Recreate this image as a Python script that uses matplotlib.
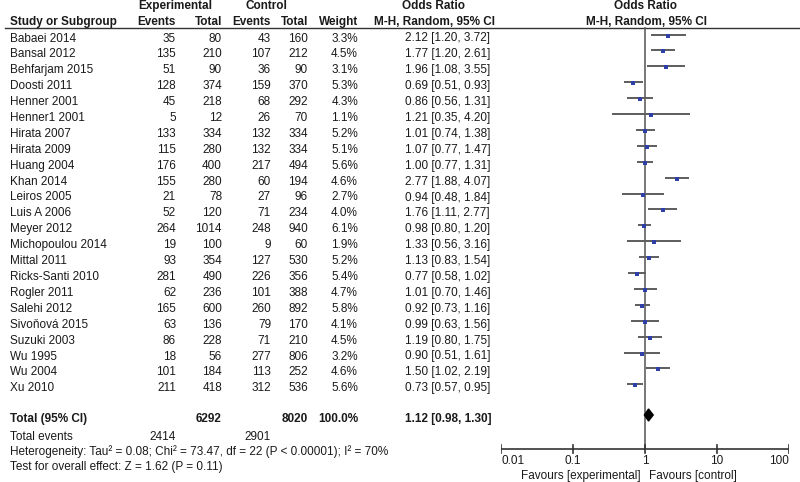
# forest plot recreation
import matplotlib
matplotlib.use("Agg")
import matplotlib.pyplot as plt
from matplotlib.patches import Polygon

plt.rcParams['font.family'] = ['Liberation Sans', 'DejaVu Sans']

# study data
studies = ["Babaei 2014", "Bansal 2012", "Behfarjam 2015", "Doosti 2011", "Henner 2001",
           "Henner1 2001", "Hirata 2007", "Hirata 2009", "Huang 2004", "Khan 2014",
           "Leiros 2005", "Luis A 2006", "Meyer 2012", "Michopoulou 2014", "Mittal 2011",
           "Ricks-Santi 2010", "Rogler 2011", "Salehi 2012", "Sivoňová 2015", "Suzuki 2003",
           "Wu 1995", "Wu 2004", "Xu 2010"]
exp_events = [35, 135, 51, 128, 45, 5, 133, 115, 176, 155, 21, 52, 264, 19, 93, 281, 62, 165, 63, 86, 18, 101, 211]
exp_total = [80, 210, 90, 374, 218, 12, 334, 280, 400, 280, 78, 120, 1014, 100, 354, 490, 236, 600, 136, 228, 56, 184, 418]
ctl_events = [43, 107, 36, 159, 68, 26, 132, 132, 217, 60, 27, 71, 248, 9, 127, 226, 101, 260, 79, 71, 277, 113, 312]
ctl_total = [160, 212, 90, 370, 292, 70, 334, 334, 494, 194, 96, 234, 940, 60, 530, 356, 388, 892, 170, 210, 806, 252, 536]
weights = [3.3, 4.5, 3.1, 5.3, 4.3, 1.1, 5.2, 5.1, 5.6, 4.6, 2.7, 4.0, 6.1, 1.9, 5.2, 5.4, 4.7, 5.8, 4.1, 4.5, 3.2, 4.6, 5.6]
odds = [2.12, 1.77, 1.96, 0.69, 0.86, 1.21, 1.01, 1.07, 1.00, 2.77, 0.94, 1.76, 0.98, 1.33, 1.13, 0.77, 1.01, 0.92, 0.99, 1.19, 0.90, 1.50, 0.73]
ci_low = [1.20, 1.20, 1.08, 0.51, 0.56, 0.35, 0.74, 0.77, 0.77, 1.88, 0.48, 1.11, 0.80, 0.56, 0.83, 0.58, 0.70, 0.73, 0.63, 0.80, 0.51, 1.02, 0.57]
ci_high = [3.72, 2.61, 3.55, 0.93, 1.31, 4.20, 1.38, 1.47, 1.31, 4.07, 1.84, 2.77, 1.20, 3.16, 1.54, 1.02, 1.46, 1.16, 1.56, 1.75, 1.61, 2.19, 0.95]

total_exp, total_ctl = 6292, 8020
events_exp, events_ctl = 2414, 2901
pooled = (1.12, 0.98, 1.30)
ticks = [0.01, 0.1, 1, 10, 100]
tick_labels = ["0.01", "0.1", "1", "10", "100"]

fs = 8.5
tc = '#1a1a1a'

fig = plt.figure(figsize=(8, 4.82), dpi=100)
ax = fig.add_axes([0, 0, 1, 1])
ax.set_xlim(0, 800)
ax.set_ylim(482, 0)
ax.axis('off')

fa = fig.add_axes([501 / 800, 0, 288 / 800, 1])
fa.set_xscale('log')
fa.set_xlim(0.01, 100)
fa.set_ylim(482, 0)
fa.axis('off')

# header
b = dict(fontsize=fs, fontweight='bold', color=tc, va='center')
ax.text(175, 6, "Experimental", ha='center', **b)
ax.text(266, 6, "Control", ha='center', **b)
ax.text(434, 6, "Odds Ratio", ha='center', **b)
ax.text(646, 6, "Odds Ratio", ha='center', **b)
ax.text(10, 22, "Study or Subgroup", ha='left', **b)
ax.text(176, 22, "Events", ha='right', **b)
ax.text(222, 22, "Total", ha='right', **b)
ax.text(271, 22, "Events", ha='right', **b)
ax.text(308, 22, "Total", ha='right', **b)
ax.text(358, 22, "Weight", ha='right', **b)
ax.text(434, 22, "M-H, Random, 95% CI", ha='center', **b)
ax.text(646, 22, "M-H, Random, 95% CI", ha='center', **b)
ax.plot([5, 800], [27.5, 27.5], color='#333333', lw=1)

n = dict(fontsize=fs, color=tc, va='center')
row0, step = 34.5, 15.9
for i, name in enumerate(studies):
    y = row0 + step * i
    ty = y + 4
    ax.text(10, ty, name, ha='left', **n)
    ax.text(176, ty, str(exp_events[i]), ha='right', **n)
    ax.text(222, ty, str(exp_total[i]), ha='right', **n)
    ax.text(271, ty, str(ctl_events[i]), ha='right', **n)
    ax.text(308, ty, str(ctl_total[i]), ha='right', **n)
    ax.text(358, ty, f"{weights[i]:.1f}%", ha='right', **n)
    ax.text(405, ty, f"{odds[i]:.2f} [{ci_low[i]:.2f}, {ci_high[i]:.2f}]", ha='left', **n)
    fa.plot([ci_low[i], ci_high[i]], [y, y], color='#505050', lw=1.3, solid_capstyle='butt')
    ms = (3.4 + weights[i] * 0.08) * 0.72
    fa.plot([odds[i]], [y + 1], marker='s', ms=ms, color='#2e3fa8', mew=0,
            linestyle='none', zorder=3)

# totals
ty = 419
ax.text(10, ty, "Total (95% CI)", ha='left', **b)
ax.text(222, ty, str(total_exp), ha='right', **b)
ax.text(308, ty, str(total_ctl), ha='right', **b)
ax.text(358, ty, "100.0%", ha='right', **b)
ax.text(405, ty, f"{pooled[0]:.2f} [{pooled[1]:.2f}, {pooled[2]:.2f}]", ha='left', **b)
ax.text(10, 437, "Total events", ha='left', **n)
ax.text(176, 437, str(events_exp), ha='right', **n)
ax.text(271, 437, str(events_ctl), ha='right', **n)
ax.text(10, 452, "Heterogeneity: Tau² = 0.08; Chi² = 73.47, df = 22 (P < 0.00001); I² = 70%", ha='left', **n)
ax.text(10, 467, "Test for overall effect: Z = 1.62 (P = 0.11)", ha='left', **n)

dy = 415
diamond = Polygon([(pooled[1], dy), (pooled[0], dy - 6), (pooled[2], dy), (pooled[0], dy + 6)],
                  closed=True, color='black', zorder=4)
fa.add_patch(diamond)

# null line and axis
fa.plot([1, 1], [27.5, 449], color='#606060', lw=1.2)
fa.plot([0.01, 100], [449, 449], color='#333333', lw=1.2)
aligns = ['left', 'center', 'center', 'center', 'right']
for t, lab, al in zip(ticks, tick_labels, aligns):
    fa.plot([t, t], [445, 453], color='#333333', lw=1.2)
    fa.text(t, 461, lab, ha=al, va='center', fontsize=fs, color=tc)
fa.text(0.88, 476, "Favours [experimental]", ha='right', va='center', fontsize=fs, color=tc)
fa.text(1.14, 476, "Favours [control]", ha='left', va='center', fontsize=fs, color=tc)

fig.savefig("out.png", dpi=100)
